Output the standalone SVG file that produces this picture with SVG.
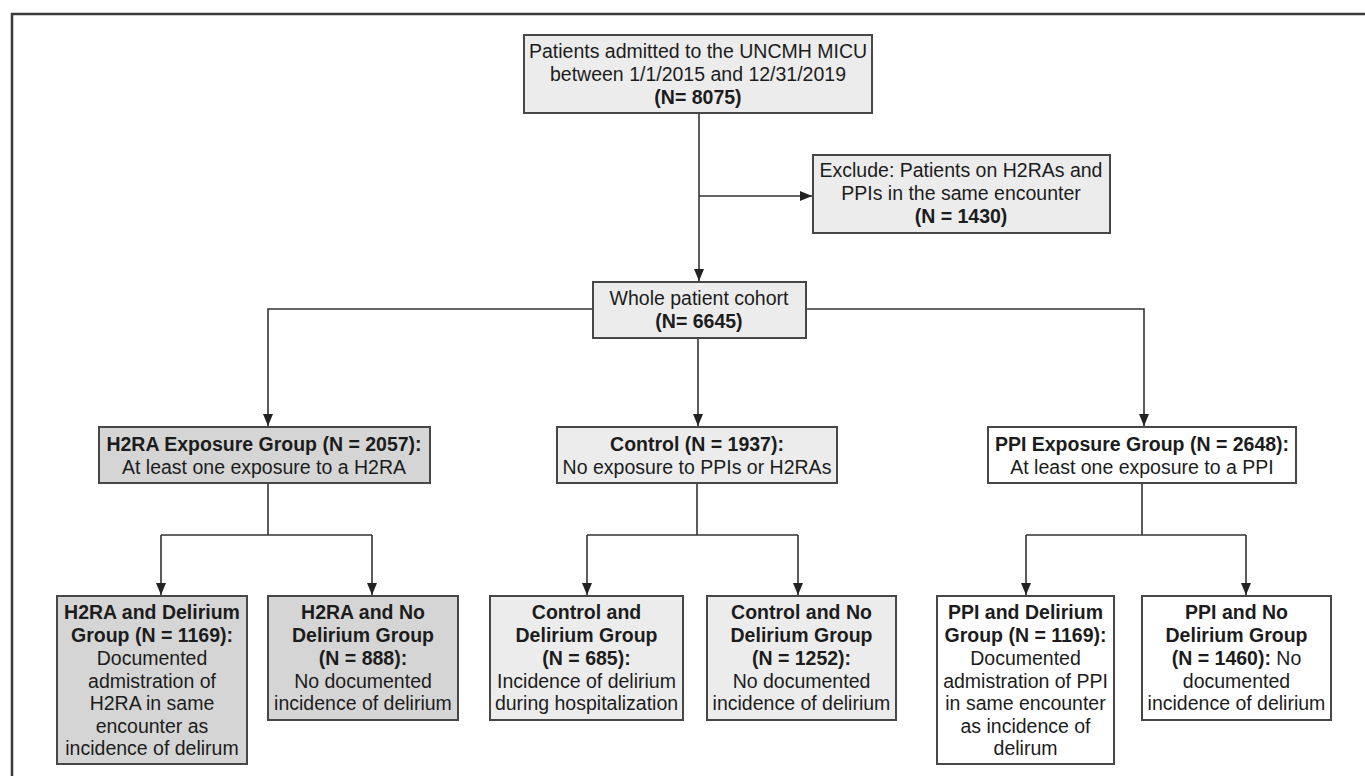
<svg xmlns="http://www.w3.org/2000/svg" width="1365" height="776" viewBox="0 0 1365 776">
<style>
text{font-family:"Liberation Sans",Arial,sans-serif;font-size:19.5px;fill:#1c1c1c;text-anchor:middle}
.b{font-weight:bold}
.box{stroke:#474747;stroke-width:2}
.g1{fill:#ececec}
.g2{fill:#d5d5d5}
.w{fill:#ffffff}
.c{fill:none;stroke:#333;stroke-width:1.6}
.frame{fill:none;stroke:#3c3c3c;stroke-width:2.5}
</style>
<defs>
<marker id="ah" viewBox="0 0 12 10" refX="12" refY="5" markerWidth="12" markerHeight="10" markerUnits="userSpaceOnUse" orient="auto">
<path d="M0,0 L12,5 L0,10 z" fill="#222"/>
</marker>
</defs>
<rect width="1365" height="776" fill="#fff"/>
<path class="frame" d="M12,776 V14 H1365"/>

<g id="connectors">
<path class="c" d="M699,113 V281" marker-end="url(#ah)"/>
<path class="c" d="M699,196 H812" marker-end="url(#ah)"/>
<path class="c" d="M593,309 H268 V426" marker-end="url(#ah)"/>
<path class="c" d="M806,309 H1144 V426" marker-end="url(#ah)"/>
<path class="c" d="M698,338 V426" marker-end="url(#ah)"/>
<path class="c" d="M268,483 V535"/>
<path class="c" d="M161,535 H372"/>
<path class="c" d="M161,535 V595" marker-end="url(#ah)"/>
<path class="c" d="M372,535 V595" marker-end="url(#ah)"/>
<path class="c" d="M697,483 V535"/>
<path class="c" d="M587,535 H798"/>
<path class="c" d="M587,535 V595" marker-end="url(#ah)"/>
<path class="c" d="M798,535 V595" marker-end="url(#ah)"/>
<path class="c" d="M1142,483 V535"/>
<path class="c" d="M1026,535 H1246"/>
<path class="c" d="M1026,535 V595" marker-end="url(#ah)"/>
<path class="c" d="M1246,535 V595" marker-end="url(#ah)"/>
</g>

<g id="n-admitted">
<rect class="box g1" x="524" y="35" width="348" height="78"/>
<text x="698" y="58">Patients admitted to the UNCMH MICU</text>
<text x="698" y="81">between 1/1/2015 and 12/31/2019</text>
<text class="b" x="698" y="104">(N= 8075)</text>
</g>

<g id="n-exclude">
<rect class="box g1" x="813" y="155" width="297" height="78"/>
<text x="961" y="177">Exclude: Patients on H2RAs and</text>
<text x="961" y="200">PPIs in the same encounter</text>
<text class="b" x="961" y="223">(N = 1430)</text>
</g>

<g id="n-cohort">
<rect class="box g1" x="593" y="282" width="213" height="56"/>
<text x="699" y="305">Whole patient cohort</text>
<text class="b" x="699" y="328">(N= 6645)</text>
</g>

<g id="n-h2ra">
<rect class="box g2" x="99" y="427" width="331" height="56"/>
<text class="b" x="264" y="451">H2RA Exposure Group (N = 2057):</text>
<text x="264" y="474">At least one exposure to a H2RA</text>
</g>

<g id="n-control">
<rect class="box g1" x="557" y="427" width="280" height="56"/>
<text class="b" x="697" y="451">Control (N = 1937):</text>
<text x="697" y="474">No exposure to PPIs or H2RAs</text>
</g>

<g id="n-ppi">
<rect class="box w" x="988" y="427" width="308" height="56"/>
<text class="b" x="1142" y="451">PPI Exposure Group (N = 2648):</text>
<text x="1142" y="474">At least one exposure to a PPI</text>
</g>

<g id="n-h2ra-del">
<rect class="box g2" x="57" y="596" width="190" height="168"/>
<text class="b" x="152" y="619">H2RA and Delirium</text>
<text class="b" x="152" y="642">Group (N = 1169):</text>
<text x="152" y="665">Documented</text>
<text x="152" y="688">admistration of</text>
<text x="152" y="710">H2RA in same</text>
<text x="152" y="733">encounter as</text>
<text x="152" y="755">incidence of delirum</text>
</g>

<g id="n-h2ra-nodel">
<rect class="box g2" x="268" y="596" width="190" height="124"/>
<text class="b" x="363" y="619">H2RA and No</text>
<text class="b" x="363" y="642">Delirium Group</text>
<text class="b" x="363" y="665">(N = 888):</text>
<text x="363" y="688">No documented</text>
<text x="363" y="710">incidence of delirium</text>
</g>

<g id="n-ctrl-del">
<rect class="box g1" x="490" y="596" width="193" height="124"/>
<text class="b" x="586.5" y="619">Control and</text>
<text class="b" x="586.5" y="642">Delirium Group</text>
<text class="b" x="586.5" y="665">(N = 685):</text>
<text x="586.5" y="688">Incidence of delirium</text>
<text x="586.5" y="710">during hospitalization</text>
</g>

<g id="n-ctrl-nodel">
<rect class="box g1" x="707" y="596" width="189" height="124"/>
<text class="b" x="801.5" y="619">Control and No</text>
<text class="b" x="801.5" y="642">Delirium Group</text>
<text class="b" x="801.5" y="665">(N = 1252):</text>
<text x="801.5" y="688">No documented</text>
<text x="801.5" y="710">incidence of delirium</text>
</g>

<g id="n-ppi-del">
<rect class="box w" x="937" y="596" width="177" height="168"/>
<text class="b" x="1025.5" y="619">PPI and Delirium</text>
<text class="b" x="1025.5" y="642">Group (N = 1169):</text>
<text x="1025.5" y="665">Documented</text>
<text x="1025.5" y="688">admistration of PPI</text>
<text x="1025.5" y="710">in same encounter</text>
<text x="1025.5" y="733">as incidence of</text>
<text x="1025.5" y="755">delirum</text>
</g>

<g id="n-ppi-nodel">
<rect class="box w" x="1142" y="596" width="189" height="124"/>
<text class="b" x="1236.5" y="619">PPI and No</text>
<text class="b" x="1236.5" y="642">Delirium Group</text>
<text x="1236.5" y="665"><tspan class="b">(N = 1460):</tspan> No</text>
<text x="1236.5" y="688">documented</text>
<text x="1236.5" y="710">incidence of delirium</text>
</g>
</svg>
